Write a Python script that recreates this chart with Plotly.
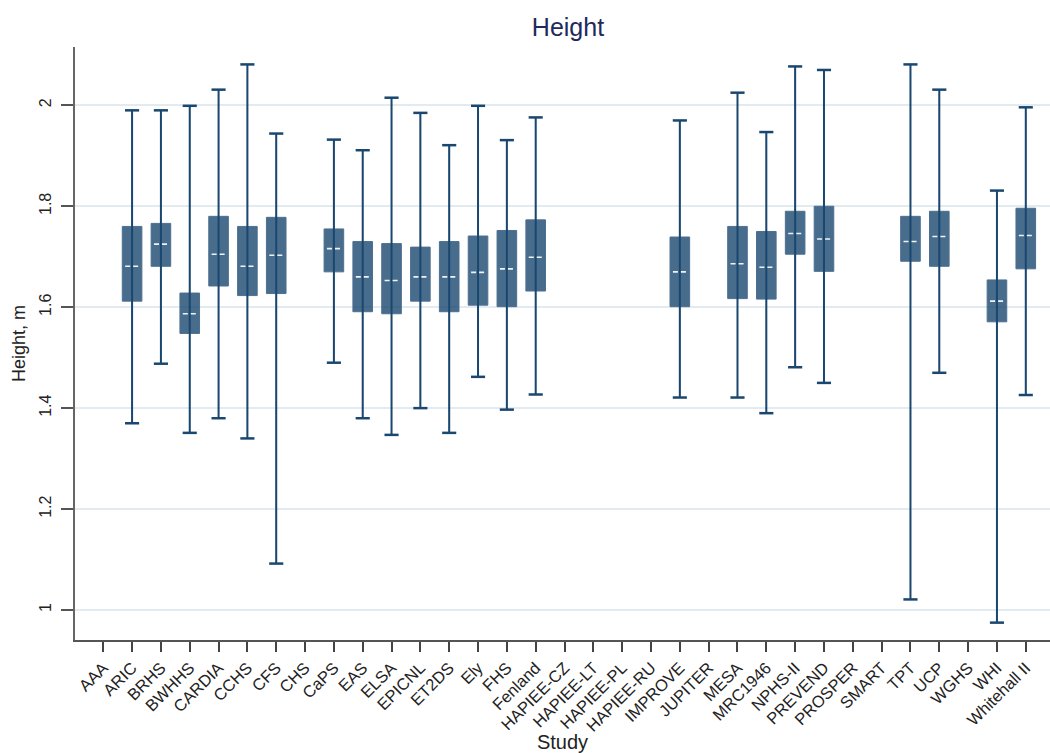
import plotly.graph_objects as go

# Height distribution by study: whisker ends, quartiles and median (metres)
studies = ["AAA", "ARIC", "BRHS", "BWHHS", "CARDIA", "CCHS", "CFS", "CHS", "CaPS",
           "EAS", "ELSA", "EPICNL", "ET2DS", "Ely", "FHS", "Fenland", "HAPIEE-CZ",
           "HAPIEE-LT", "HAPIEE-PL", "HAPIEE-RU", "IMPROVE", "JUPITER", "MESA",
           "MRC1946", "NPHS-II", "PREVEND", "PROSPER", "SMART", "TPT", "UCP",
           "WGHS", "WHI", "Whitehall II"]

whisker_low = [None, 1.370, 1.488, 1.351, 1.380, 1.340, 1.092, None, 1.490,
               1.380, 1.347, 1.400, 1.351, 1.462, 1.397, 1.427, None,
               None, None, None, 1.421, None, 1.421,
               1.390, 1.481, 1.450, None, None, 1.021, 1.470,
               None, 0.975, 1.426]
q1 = [None, 1.612, 1.681, 1.548, 1.642, 1.623, 1.627, None, 1.670,
      1.591, 1.587, 1.612, 1.591, 1.604, 1.601, 1.632, None,
      None, None, None, 1.601, None, 1.617,
      1.616, 1.705, 1.671, None, None, 1.691, 1.681,
      None, 1.571, 1.676]
median = [None, 1.681, 1.725, 1.587, 1.705, 1.681, 1.703, None, 1.716,
          1.660, 1.653, 1.660, 1.660, 1.669, 1.676, 1.699, None,
          None, None, None, 1.670, None, 1.686,
          1.679, 1.746, 1.735, None, None, 1.730, 1.740,
          None, 1.612, 1.742]
q3 = [None, 1.760, 1.766, 1.628, 1.780, 1.760, 1.778, None, 1.755,
      1.730, 1.726, 1.719, 1.730, 1.741, 1.752, 1.773, None,
      None, None, None, 1.739, None, 1.760,
      1.750, 1.790, 1.800, None, None, 1.780, 1.790,
      None, 1.654, 1.796]
whisker_high = [None, 1.990, 1.990, 1.999, 2.031, 2.081, 1.944, None, 1.932,
                1.911, 2.015, 1.985, 1.921, 1.999, 1.931, 1.976, None,
                None, None, None, 1.970, None, 2.025,
                1.947, 2.077, 2.070, None, None, 2.081, 2.031,
                None, 1.831, 1.996]

y_ticks = [1, 1.2, 1.4, 1.6, 1.8, 2]
y_tick_labels = ["1", "1.2", "1.4", "1.6", "1.8", "2"]

NAVY = "#1a476f"
BOX_FILL = "rgba(26,71,111,0.80)"
FONT = "Liberation Sans, Arial, sans-serif"

BOX_WIDTH = 0.68
CAP_HALF = 0.245
MED_HALF = 0.24

present = [i for i, m in enumerate(median) if m is not None]

fig = go.Figure()

# boxes (interquartile range)
fig.add_trace(go.Box(
    x=present,
    q1=[q1[i] for i in present],
    median=[median[i] for i in present],
    q3=[q3[i] for i in present],
    lowerfence=[whisker_low[i] for i in present],
    upperfence=[whisker_high[i] for i in present],
    width=BOX_WIDTH,
    whiskerwidth=0,
    fillcolor=BOX_FILL,
    line=dict(color="#4d6f90", width=1),
    boxpoints=False,
    hoverinfo="skip",
    showlegend=False,
))

# whisker spines and end caps
wx, wy, cx, cy = [], [], [], []
for i in present:
    wx += [i, i, None]
    wy += [whisker_low[i], whisker_high[i], None]
    for v in (whisker_low[i], whisker_high[i]):
        cx += [i - CAP_HALF, i + CAP_HALF, None]
        cy += [v, v, None]

fig.add_trace(go.Scatter(x=wx, y=wy, mode="lines",
                         line=dict(color=NAVY, width=2),
                         hoverinfo="skip", showlegend=False))
fig.add_trace(go.Scatter(x=cx, y=cy, mode="lines",
                         line=dict(color=NAVY, width=2.5),
                         hoverinfo="skip", showlegend=False))

# medians as short white dashed strokes
mx, my = [], []
for i in present:
    mx += [i - MED_HALF, i + MED_HALF, None]
    my += [median[i], median[i], None]
fig.add_trace(go.Scatter(x=mx, y=my, mode="lines",
                         line=dict(color="#eef3f7", width=1.6, dash="5px,3px"),
                         hoverinfo="skip", showlegend=False))

fig.update_layout(
    width=1050,
    height=753,
    margin=dict(l=75, r=0, t=47, b=113),
    paper_bgcolor="white",
    plot_bgcolor="white",
    font=dict(family=FONT, color="#222222"),
    title=dict(text="Height", x=568 / 1050, xanchor="center", xref="container",
               y=1 - 27 / 753, yanchor="middle", yref="container",
               font=dict(size=25, color="#1e2a5e", family=FONT)),
    xaxis=dict(
        range=[-0.98, 32.84],
        tickmode="array",
        tickvals=list(range(len(studies))),
        ticktext=studies,
        tickangle=-45,
        ticks="outside",
        ticklen=10,
        tickwidth=1.5,
        tickcolor="#444444",
        showline=True,
        linecolor="#555555",
        linewidth=1.5,
        showgrid=False,
        zeroline=False,
        tickfont=dict(size=16.5, color="#222222"),
        title=dict(text="Study", font=dict(size=20, color="#222222"), standoff=4),
        automargin=False,
    ),
    yaxis=dict(
        range=[0.9406, 2.1155],
        tickmode="array",
        tickvals=y_ticks,
        ticktext=y_tick_labels,
        tickangle=-90,
        ticks="outside",
        ticklen=12,
        tickwidth=1.5,
        tickcolor="#555555",
        ticklabelstandoff=4,
        showline=True,
        linecolor="#666666",
        linewidth=1.8,
        showgrid=True,
        gridcolor="#e2ebf0",
        gridwidth=1.5,
        zeroline=False,
        tickfont=dict(size=16, color="#222222"),
        title=dict(text="Height, m", font=dict(size=18, color="#222222"), standoff=6),
        automargin=False,
    ),
)

fig.write_html("out.html")
